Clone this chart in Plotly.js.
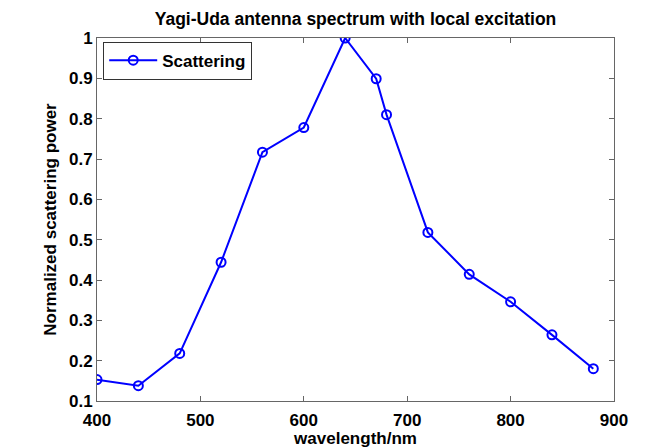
<!DOCTYPE html>
<html>
<head>
<meta charset="utf-8">
<script src="https://cdn.plot.ly/plotly-3.0.1.min.js"></script>
<style>html,body{margin:0;padding:0;background:#fff;}#chart{width:662px;height:448px;}</style>
</head>
<body>
<div id="chart"></div>
<script>
var wavelength = [400, 440, 480, 520, 560, 600, 640, 670, 680, 720, 760, 800, 840, 880];
var scattering = [0.153, 0.138, 0.218, 0.444, 0.717, 0.778, 1.0, 0.899, 0.810, 0.518, 0.414, 0.346, 0.264, 0.180];
var xTicks = [400, 500, 600, 700, 800, 900];
var yTicks = [0.1, 0.2, 0.3, 0.4, 0.5, 0.6, 0.7, 0.8, 0.9, 1];
var yTickText = ['0.1','0.2','0.3','0.4','0.5','0.6','0.7','0.8','0.9','1'];

var font = "'Liberation Sans', Arial, Helvetica, sans-serif";
var trace = {
  x: wavelength, y: scattering, type: 'scatter', mode: 'lines+markers',
  name: '<b>Scattering</b>',
  line: {color: '#0000ff', width: 2},
  marker: {symbol: 'circle-open', size: 9, color: '#0000ff', line: {width: 2, color: '#0000ff'}}
};
var layout = {
  width: 662, height: 448,
  margin: {l: 97, r: 48, t: 38, b: 47},
  paper_bgcolor: '#fff', plot_bgcolor: '#fff',
  font: {family: font, size: 17, color: '#000'},
  title: {text: '<b>Yagi-Uda antenna spectrum with local excitation</b>', font: {family: font, size: 17.5, color: '#000'}, x: 0.5, xanchor: 'center', xref: 'paper', y: 0.957, yanchor: 'middle'},
  xaxis: {
    range: [400, 900], tickvals: xTicks, ticktext: xTicks.map(function(v){return '<b>'+v+'</b>';}),
    ticks: 'inside', ticklen: 5, tickcolor: '#666', tickwidth: 1, ticklabelstandoff: 4,
    showline: true, linecolor: '#666', linewidth: 1, mirror: 'ticks',
    showgrid: false, zeroline: false,
    tickfont: {family: font, size: 17, color: '#000'},
    title: {text: '<b>wavelength/nm</b>', font: {family: font, size: 17, color: '#000'}, standoff: 3}
  },
  yaxis: {
    range: [0.1, 1], tickvals: yTicks, ticktext: yTickText.map(function(v){return '<b>'+v+'</b>';}),
    ticks: 'inside', ticklen: 5, tickcolor: '#666', tickwidth: 1,
    showline: true, linecolor: '#666', linewidth: 1, mirror: 'ticks',
    showgrid: false, zeroline: false,
    tickfont: {family: font, size: 17, color: '#000'},
    title: {text: '<b>Normalized scattering power</b>', font: {family: font, size: 17, color: '#000'}, standoff: 8}
  },
  showlegend: true,
  legend: {x: 0.012, y: 0.99, xanchor: 'left', yanchor: 'top', bgcolor: '#fff', bordercolor: '#333', borderwidth: 1,
    font: {family: font, size: 17, color: '#000'}, itemwidth: 48, tracegroupgap: 0}
};
Plotly.newPlot('chart', [trace], layout, {displayModeBar: false, staticPlot: true});
</script>
</body>
</html>
